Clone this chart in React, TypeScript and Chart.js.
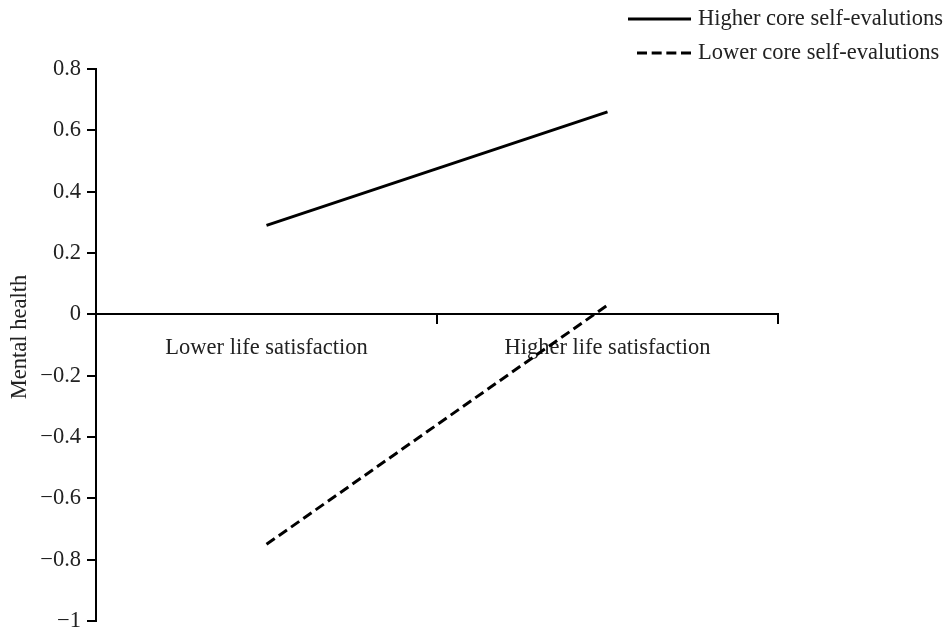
import React, { useEffect, useRef } from "react";
import { Chart, registerables } from "chart.js";

Chart.register(...registerables);

const categories = ["Lower life satisfaction", "Higher life satisfaction"];
const seriesNames = ["Higher core self-evalutions", "Lower core self-evalutions"];
const higherCSE = [0.29, 0.66];
const lowerCSE = [-0.75, 0.03];
const yTitle = "Mental health";
const yMin = -1;
const yMax = 0.8;
const yStep = 0.2;

const FONT = "'Liberation Serif', 'Times New Roman', serif";
const TEXT = "#222";
const FS = 22.5;

const legendPlugin = {
  id: "customLegend",
  afterDraw(chart: any) {
    const ctx = chart.ctx;
    const items = chart.data.datasets;
    ctx.save();
    items.forEach((ds: any, i: number) => {
      const y = 19 + i * 34;
      ctx.beginPath();
      ctx.strokeStyle = "#000";
      ctx.lineWidth = 3;
      if (ds.borderDash) {
        ctx.setLineDash([10, 4.67]);
        ctx.moveTo(637, y);
      } else {
        ctx.setLineDash([]);
        ctx.moveTo(628, y);
      }
      ctx.lineTo(691, y);
      ctx.stroke();
      ctx.setLineDash([]);
      ctx.fillStyle = TEXT;
      ctx.font = `${FS}px ${FONT}`;
      ctx.textAlign = "left";
      ctx.textBaseline = "middle";
      ctx.fillText(ds.label, 698, y);
    });
    // y-axis title
    ctx.translate(20, 337);
    ctx.rotate(-Math.PI / 2);
    ctx.fillStyle = TEXT;
    ctx.font = `${FS}px ${FONT}`;
    ctx.textAlign = "center";
    ctx.textBaseline = "middle";
    ctx.fillText(yTitle, 0, 0);
    ctx.restore();
  },
};

function fmt(v: number) {
  const r = Math.round(v * 10) / 10;
  let s = r === 0 ? "0" : Number.isInteger(r) ? String(r) : r.toFixed(1);
  return s.replace("-", "\u2212");
}

export default function App() {
  const ref = useRef<HTMLCanvasElement>(null);
  useEffect(() => {
    document.body.style.margin = "0";
    const chart = new Chart(ref.current!, {
      type: "line",
      data: {
        labels: categories,
        datasets: [
          {
            label: seriesNames[0],
            data: higherCSE,
            borderColor: "#000",
            borderWidth: 3,
            pointRadius: 0,
            fill: false,
          },
          {
            label: seriesNames[1],
            data: lowerCSE,
            borderColor: "#000",
            borderWidth: 3,
            borderDash: [10, 5],
            pointRadius: 0,
            fill: false,
          },
        ],
      },
      options: {
        responsive: false,
        animation: false,
        layout: { padding: { left: 0, right: 166, top: 69, bottom: 8 } },
        plugins: { legend: { display: false }, tooltip: { enabled: false } },
        scales: {
          x: {
            type: "category",
            offset: true,
            position: { y: 0 } as any,
            grid: {
              offset: true,
              drawOnChartArea: false,
              drawTicks: true,
              tickLength: 9,
              color: "#000",
              lineWidth: 2,
            },
            border: { display: true, color: "#000", width: 2 },
            ticks: {
              color: TEXT,
              font: { family: FONT, size: FS },
              padding: 11,
              maxRotation: 0,
              autoSkip: false,
            },
            afterFit(scale: any) {
              scale.height = 0;
              scale.paddingLeft = 0;
              scale.paddingRight = 0;
            },
          },
          y: {
            min: yMin,
            max: yMax,
            grid: {
              drawOnChartArea: false,
              drawTicks: true,
              tickLength: 9,
              color: "#000",
              lineWidth: 2,
            },
            border: { display: true, color: "#000", width: 2 },
            ticks: {
              stepSize: yStep,
              color: TEXT,
              font: { family: FONT, size: FS },
              padding: 6,
              callback: (v: any) => fmt(Number(v)),
            },
            afterFit(scale: any) {
              scale.width = 96;
              scale.paddingTop = 0;
              scale.paddingBottom = 0;
            },
          },
        },
      },
      plugins: [legendPlugin],
    });
    return () => chart.destroy();
  }, []);
  return (
    <div style={{ width: 944, height: 629 }}>
      <canvas ref={ref} width={944} height={629} />
    </div>
  );
}
